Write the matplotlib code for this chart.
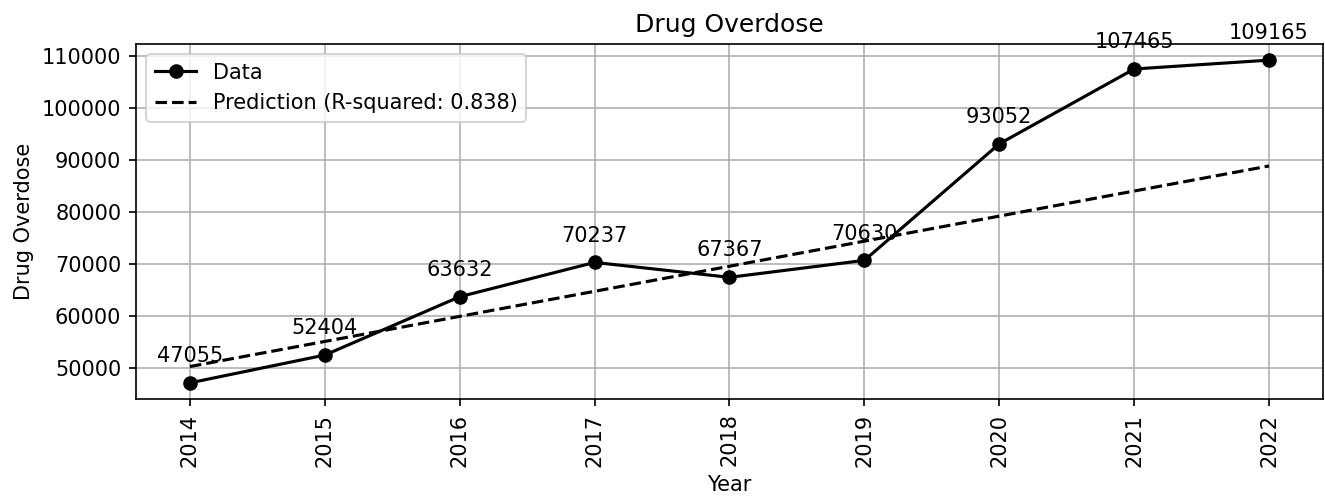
import matplotlib.pyplot as plt
import numpy as np

years = [2014, 2015, 2016, 2017, 2018, 2019, 2020, 2021, 2022]
deaths = [47055, 52404, 63632, 70237, 67367, 70630, 93052, 107465, 109165]
# trend line
prediction = [50200, 55025, 59850, 64675, 69500, 74325, 79150, 83975, 88800]
r_squared = 0.838

fig, ax = plt.subplots(figsize=(1325 / 150, 499 / 150), dpi=150)
ax.plot(years, deaths, marker="o", color="black", label="Data")
ax.plot(years, prediction, linestyle="--", color="black",
        label="Prediction (R-squared: %.3f)" % r_squared)

for x, y in zip(years, deaths):
    ax.annotate(str(y), (x, y), textcoords="offset points", xytext=(0, 10), ha="center")

ax.set_title("Drug Overdose")
ax.set_xlabel("Year")
ax.set_ylabel("Drug Overdose")
ax.set_xticks(years)
plt.xticks(rotation=90)
ax.grid(True)
ax.legend(loc="upper left")
plt.subplots_adjust(left=0.1026, right=0.9985, top=0.9118, bottom=0.2004)
plt.savefig("out.png", dpi=150)
